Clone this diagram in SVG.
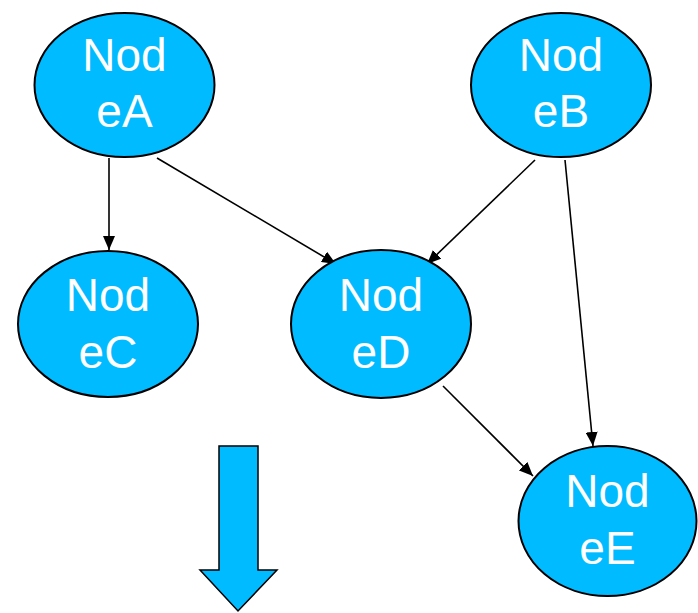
<svg xmlns="http://www.w3.org/2000/svg" width="698" height="613" viewBox="0 0 698 613">
  <defs>
    <marker id="arrow" viewBox="0 0 14 12" refX="14" refY="6" markerWidth="14" markerHeight="12" markerUnits="userSpaceOnUse" orient="auto">
      <path d="M0,0 L14,6 L0,12 Z" fill="#000"/>
    </marker>
    <style>
      .node ellipse { fill: #00bbff; stroke: #000; stroke-width: 2; }
      .node text { fill: #fff; font-family: "Liberation Sans", Arial, sans-serif; font-size: 46px; text-anchor: middle; }
      .edges line { stroke: #000; stroke-width: 1.6; marker-end: url(#arrow); }
      .block { fill: #00bbff; stroke: #000; stroke-width: 1.5; }
    </style>
  </defs>
  <rect width="698" height="613" fill="#fff"/>

  <g class="edges">
    <line x1="109" y1="158" x2="109" y2="250"/>
    <line x1="157" y1="158" x2="336" y2="264"/>
    <line x1="535" y1="160" x2="427" y2="264"/>
    <line x1="565" y1="160" x2="593" y2="446"/>
    <line x1="443" y1="386" x2="533" y2="476"/>
  </g>

  <g id="nodeA" class="node">
    <ellipse cx="124.5" cy="85" rx="90" ry="72"/>
    <text x="124.5" y="71">Nod</text>
    <text x="124.5" y="127">eA</text>
  </g>
  <g id="nodeB" class="node">
    <ellipse cx="561" cy="85" rx="90" ry="72"/>
    <text x="561" y="71">Nod</text>
    <text x="561" y="127">eB</text>
  </g>
  <g id="nodeC" class="node">
    <ellipse cx="108" cy="324" rx="90" ry="73"/>
    <text x="108" y="311">Nod</text>
    <text x="108" y="368">eC</text>
  </g>
  <g id="nodeD" class="node">
    <ellipse cx="381" cy="324" rx="90" ry="74"/>
    <text x="381" y="311">Nod</text>
    <text x="381" y="368">eD</text>
  </g>
  <g id="nodeE" class="node">
    <ellipse cx="607.5" cy="521" rx="89" ry="75"/>
    <text x="607.5" y="507">Nod</text>
    <text x="607.5" y="564">eE</text>
  </g>

  <!-- downward block arrow -->
  <path class="block" d="M219,446 L258,446 L258,570 L277,570 L238,611 L200,570 L219,570 Z"/>
</svg>
